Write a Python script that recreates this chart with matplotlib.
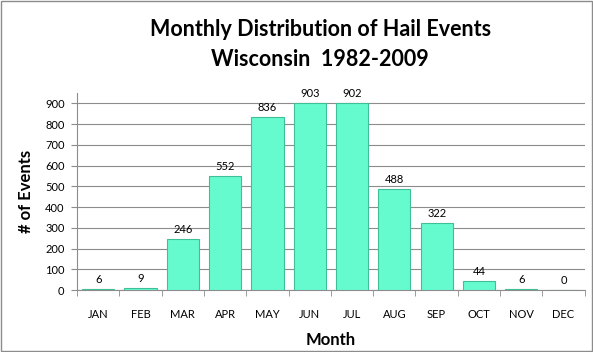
import matplotlib
matplotlib.use("Agg")
import matplotlib.pyplot as plt
import numpy as np

months = ["JAN", "FEB", "MAR", "APR", "MAY", "JUN", "JUL", "AUG", "SEP", "OCT", "NOV", "DEC"]
events = [6, 9, 246, 552, 836, 903, 902, 488, 322, 44, 6, 0]
yticks = [0, 100, 200, 300, 400, 500, 600, 700, 800, 900]

plt.rcParams['font.family'] = ['Lato', 'DejaVu Sans']

fig = plt.figure(figsize=(5.93, 3.52), dpi=100)
fig.patches.append(plt.Rectangle((0.001, 0.002), 0.997, 0.995, transform=fig.transFigure,
                                 fill=False, edgecolor='#8c8c8c', linewidth=1))
ax = fig.add_axes([0.130, 0.176, 0.856, 0.560])

x = np.arange(len(months))
ax.bar(x, events, width=0.76, color='#66fbcf', edgecolor='#3fbf98', linewidth=0.8, zorder=3)
for xi, v in zip(x, events):
    ax.text(xi, v + 18, str(v), ha='center', va='bottom', fontsize=8, color='black', zorder=4)

ax.set_xlim(-0.5, len(months) - 0.5)
ax.set_ylim(0, 950)
ax.set_yticks(yticks)
ax.set_yticklabels([str(t) for t in yticks], fontsize=8)
ax.yaxis.grid(True, color='#8c8c8c', linewidth=0.8, zorder=0)
ax.set_axisbelow(True)

ax.set_xticks(x)
ax.set_xticklabels(months, fontsize=8)
ax.set_xticks(np.arange(-0.5, len(months)), minor=True)
ax.tick_params(axis='x', which='major', length=0, pad=14)
ax.tick_params(axis='x', which='minor', length=4, color='#8c8c8c', direction='out')
ax.tick_params(axis='y', length=4, color='#8c8c8c', direction='out', pad=5)

for s in ['top', 'right']:
    ax.spines[s].set_visible(False)
ax.spines['left'].set_color('#8c8c8c')
ax.spines['bottom'].set_color('#8c8c8c')

ax.set_xlabel("Month", fontsize=12, fontweight='bold', labelpad=8)
ax.set_ylabel("# of Events", fontsize=12, fontweight='bold', labelpad=8)

fig.text(0.54, 0.915, "Monthly Distribution of Hail Events", ha='center', va='center',
         fontsize=15.5, fontweight='bold')
fig.text(0.54, 0.83, "Wisconsin  1982-2009", ha='center', va='center',
         fontsize=15.5, fontweight='bold')

fig.savefig("out.png", dpi=100)
